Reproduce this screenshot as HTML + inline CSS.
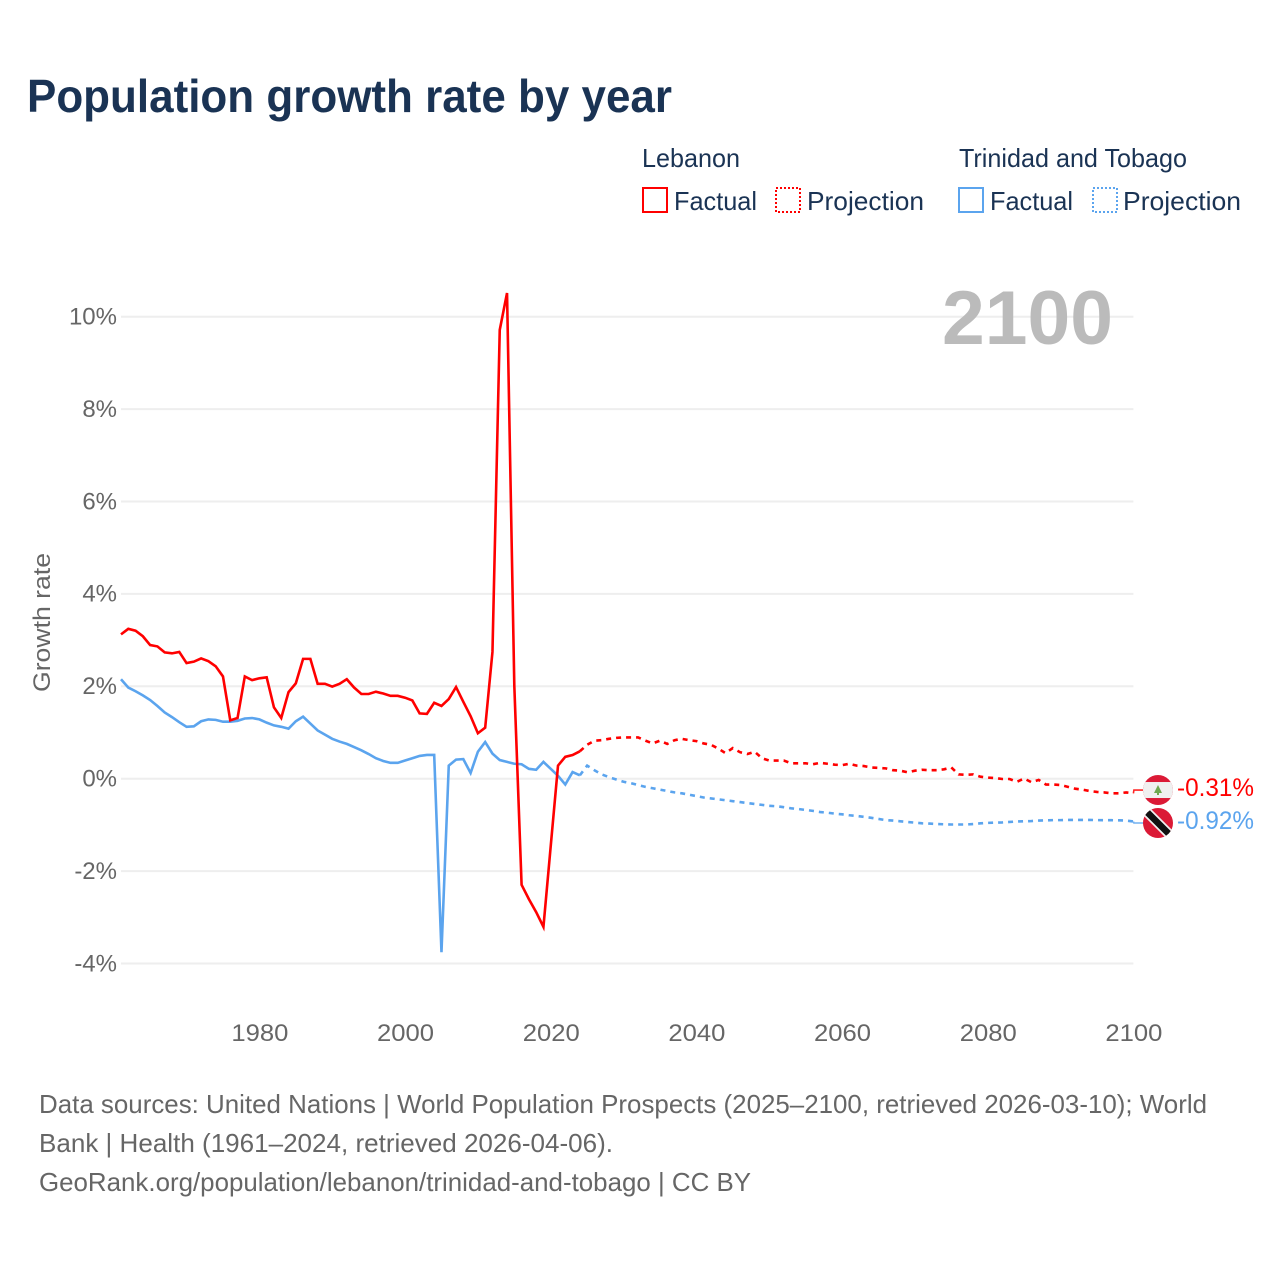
<!DOCTYPE html>
<html lang="en">
<head>
<meta charset="utf-8">
<title>Population growth rate by year</title>
<style>
  html, body { margin: 0; padding: 0; background: #fff; }
  svg { display: block; font-family: "Liberation Sans", sans-serif; }
</style>
</head>
<body>
<svg id="chart" width="1280" height="1280" viewBox="0 0 1280 1280" xmlns="http://www.w3.org/2000/svg">
  <rect x="0" y="0" width="1280" height="1280" fill="#ffffff"/>
  <text x="27" y="112" font-size="46" font-weight="700" fill="#1a3354" textLength="645" lengthAdjust="spacingAndGlyphs">Population growth rate by year</text>

  <g font-size="26" fill="#1a3354">
    <text x="642" y="167" textLength="98" lengthAdjust="spacingAndGlyphs">Lebanon</text>
    <rect x="643" y="188" width="24" height="24" fill="none" stroke="#ff0000" stroke-width="2"/>
    <text x="674" y="210" textLength="83" lengthAdjust="spacingAndGlyphs">Factual</text>
    <rect x="776" y="188" width="24" height="24" fill="none" stroke="#ff0000" stroke-width="2" stroke-dasharray="2 2"/>
    <text x="807" y="210" textLength="117" lengthAdjust="spacingAndGlyphs">Projection</text>
    <text x="959" y="167" textLength="228" lengthAdjust="spacingAndGlyphs">Trinidad and Tobago</text>
    <rect x="959" y="188" width="24" height="24" fill="none" stroke="#5ba4ee" stroke-width="2"/>
    <text x="990" y="210" textLength="83" lengthAdjust="spacingAndGlyphs">Factual</text>
    <rect x="1093" y="188" width="24" height="24" fill="none" stroke="#5ba4ee" stroke-width="2" stroke-dasharray="2 2"/>
    <text x="1123" y="210" textLength="118" lengthAdjust="spacingAndGlyphs">Projection</text>
  </g>

  <g id="grid"></g>
  <g id="yticks"></g>
  <g id="xticks"></g>

  <text x="1113" y="344" text-anchor="end" font-size="76" font-weight="700" fill="#bbbbbb" textLength="171" lengthAdjust="spacingAndGlyphs">2100</text>

  <text transform="translate(50,622.5) rotate(-90)" text-anchor="middle" font-size="24" fill="#666666" textLength="139" lengthAdjust="spacingAndGlyphs">Growth rate</text>

  <g id="series"></g>
  <g id="ends"></g>

  <g font-size="26" fill="#666666">
    <text x="39" y="1113" textLength="1168" lengthAdjust="spacingAndGlyphs">Data sources: United Nations | World Population Prospects (2025–2100, retrieved 2026-03-10); World</text>
    <text x="39" y="1152" textLength="574" lengthAdjust="spacingAndGlyphs">Bank | Health (1961–2024, retrieved 2026-04-06).</text>
    <text x="39" y="1191" textLength="712" lengthAdjust="spacingAndGlyphs">GeoRank.org/population/lebanon/trinidad-and-tobago | CC BY</text>
  </g>
</svg>

<script>
const firstFactualYear = 1961;
const firstProjectionYear = 2025;

const lebanonFactual = [3.13,3.25,3.21,3.09,2.90,2.87,2.74,2.72,2.75,2.51,2.54,2.61,2.55,2.44,2.22,1.27,1.32,2.22,2.14,2.18,2.20,1.55,1.32,1.88,2.07,2.60,2.60,2.06,2.06,2.00,2.06,2.16,1.98,1.84,1.84,1.89,1.85,1.80,1.80,1.76,1.70,1.42,1.41,1.65,1.58,1.73,1.99,1.67,1.36,0.99,1.11,2.75,9.72,10.52,2.02,-2.29,-2.60,-2.88,-3.20,-1.45,0.29,0.48,0.52,0.60];

const trinidadFactual = [2.16,1.98,1.90,1.81,1.71,1.58,1.44,1.34,1.23,1.13,1.14,1.25,1.29,1.28,1.24,1.24,1.26,1.31,1.32,1.29,1.22,1.16,1.13,1.09,1.25,1.35,1.20,1.05,0.96,0.87,0.81,0.76,0.69,0.62,0.54,0.45,0.39,0.35,0.35,0.40,0.45,0.50,0.52,0.52,-3.75,0.29,0.42,0.43,0.13,0.59,0.80,0.55,0.41,0.37,0.33,0.32,0.22,0.20,0.37,0.22,0.07,-0.12,0.15,0.08];

const lebanonProjection = [0.74,0.83,0.84,0.87,0.89,0.90,0.90,0.90,0.83,0.77,0.83,0.76,0.84,0.87,0.84,0.82,0.77,0.74,0.66,0.56,0.67,0.58,0.54,0.59,0.45,0.40,0.40,0.40,0.34,0.34,0.34,0.32,0.35,0.33,0.31,0.30,0.33,0.29,0.28,0.25,0.24,0.23,0.19,0.18,0.145,0.18,0.20,0.19,0.19,0.21,0.25,0.10,0.09,0.10,0.05,0.03,0.02,0.00,0.00,-0.06,0.01,-0.07,-0.02,-0.12,-0.12,-0.13,-0.17,-0.21,-0.23,-0.26,-0.28,-0.29,-0.31,-0.31,-0.29,-0.31];

const trinidadProjection = [0.29,0.19,0.10,0.04,-0.01,-0.06,-0.09,-0.13,-0.17,-0.20,-0.23,-0.26,-0.29,-0.31,-0.34,-0.37,-0.40,-0.42,-0.44,-0.46,-0.48,-0.50,-0.52,-0.54,-0.56,-0.58,-0.59,-0.61,-0.635,-0.65,-0.67,-0.69,-0.715,-0.73,-0.75,-0.765,-0.785,-0.80,-0.82,-0.84,-0.865,-0.89,-0.90,-0.915,-0.93,-0.945,-0.96,-0.965,-0.975,-0.98,-0.985,-0.985,-0.985,-0.975,-0.96,-0.95,-0.945,-0.94,-0.93,-0.92,-0.915,-0.91,-0.90,-0.895,-0.89,-0.89,-0.885,-0.885,-0.885,-0.885,-0.89,-0.892,-0.892,-0.895,-0.90,-0.92];

const yTickValues = [10, 8, 6, 4, 2, 0, -2, -4];
const yTickLabels = ['10%', '8%', '6%', '4%', '2%', '0%', '-2%', '-4%'];
const xTickValues = [1980, 2000, 2020, 2040, 2060, 2080, 2100];
const xTickLabels = ['1980', '2000', '2020', '2040', '2060', '2080', '2100'];
const endLabels = ['-0.31%', '-0.92%'];

const NS = 'http://www.w3.org/2000/svg';
const RED = '#ff0000';
const BLUE = '#5ba4ee';

function xScale(year) { return 121 + (year - 1961) * 7.2835; }
function yScale(value) { return 779 - value * 46.2; }

function make(tag, attrs, parent) {
  const el = document.createElementNS(NS, tag);
  for (const k in attrs) el.setAttribute(k, attrs[k]);
  parent.appendChild(el);
  return el;
}

function pathFrom(startYear, values) {
  return values.map(function (v, i) {
    return (i ? 'L' : 'M') + xScale(startYear + i).toFixed(2) + ' ' + yScale(v).toFixed(2);
  }).join(' ');
}

const grid = document.getElementById('grid');
const yticks = document.getElementById('yticks');
const xticks = document.getElementById('xticks');
const series = document.getElementById('series');
const ends = document.getElementById('ends');

yTickValues.forEach(function (v, i) {
  const line = make('line', { x1: 121, x2: xScale(2100), y1: yScale(v) - 0.3, y2: yScale(v) - 0.3, stroke: '#eeeeee', 'stroke-width': 2 }, grid);
  
  
  const t = make('text', { x: 117, y: yScale(v) + 7.5, 'text-anchor': 'end', 'font-size': 24, fill: '#666666' }, yticks);
  
  
  t.textContent = yTickLabels[i];
});

xTickValues.forEach(function (v, i) {
  const t = make('text', { x: xScale(v) + 0.5, y: 1041, 'text-anchor': 'middle', 'font-size': 24, fill: '#666666', textLength: 57, lengthAdjust: 'spacingAndGlyphs' }, xticks);
  
  
  t.textContent = xTickLabels[i];
});

function drawSeries(factual, projection, color) {
  const lastFactualYear = firstFactualYear + factual.length - 1;
  const solid = make('path', { d: pathFrom(firstFactualYear, factual), fill: 'none', stroke: color, 'stroke-width': 2.6, 'stroke-linejoin': 'miter' }, series);
  
  
  const dashed = [factual[factual.length - 1]].concat(projection);
  const proj = make('path', { d: pathFrom(lastFactualYear, dashed), fill: 'none', stroke: color, 'stroke-width': 2.6, 'stroke-dasharray': '5 5' }, series);
  
  
}

drawSeries(trinidadFactual, trinidadProjection, BLUE);
drawSeries(lebanonFactual, lebanonProjection, RED);

function endMarker(lastValue, bump, color, label) {
  const x100 = xScale(2100);
  const y0 = yScale(lastValue);
  const fy = y0 + bump;
  const conn = make('path', { d: 'M' + x100 + ' ' + y0 + ' L' + (x100 + 0.5) + ' ' + fy + ' L1144 ' + fy, fill: 'none', stroke: color, 'stroke-width': 1.6, opacity: 0.85 }, ends);
  
  
  const t = make('text', { x: 1177, y: fy + 6, 'font-size': 25, fill: color, textLength: 77, lengthAdjust: 'spacingAndGlyphs' }, ends);
  
  
  t.textContent = label;
  return fy;
}

const lastLebanon = lebanonProjection[lebanonProjection.length - 1];
const lastTrinidad = trinidadProjection[trinidadProjection.length - 1];
const lebY = endMarker(lastLebanon, -3.3, RED, endLabels[0]);
const triY = endMarker(lastTrinidad, 1.5, BLUE, endLabels[1]);

const defs = make('defs', {}, ends);
const cpA = make('clipPath', { id: 'flag-clip-a' }, defs);
make('circle', { cx: 1158, cy: lebY, r: 15 }, cpA);
const cpB = make('clipPath', { id: 'flag-clip-b' }, defs);
make('circle', { cx: 1158, cy: triY, r: 15 }, cpB);

const flagA = make('g', { 'clip-path': 'url(#flag-clip-a)' }, ends);


make('rect', { x: 1143, y: lebY - 15, width: 30, height: 30, fill: '#db1a36' }, flagA);
make('rect', { x: 1143, y: lebY - 8, width: 30, height: 16, fill: '#f0f0f0' }, flagA);
make('path', { d: 'M1158 ' + (lebY - 5) + ' L1162 ' + (lebY + 3) + ' L1159 ' + (lebY + 3) + ' L1159 ' + (lebY + 5) + ' L1157 ' + (lebY + 5) + ' L1157 ' + (lebY + 3) + ' L1154 ' + (lebY + 3) + ' Z', fill: '#6fa84f' }, flagA);

const flagB = make('g', { 'clip-path': 'url(#flag-clip-b)' }, ends);


make('rect', { x: 1143, y: triY - 15, width: 30, height: 30, fill: '#db1a36' }, flagB);
make('line', { x1: 1143, y1: triY - 15, x2: 1173, y2: triY + 15, stroke: '#f0f0f0', 'stroke-width': 10 }, flagB);
make('line', { x1: 1143, y1: triY - 15, x2: 1173, y2: triY + 15, stroke: '#111111', 'stroke-width': 6.5 }, flagB);
</script>
</body>
</html>
